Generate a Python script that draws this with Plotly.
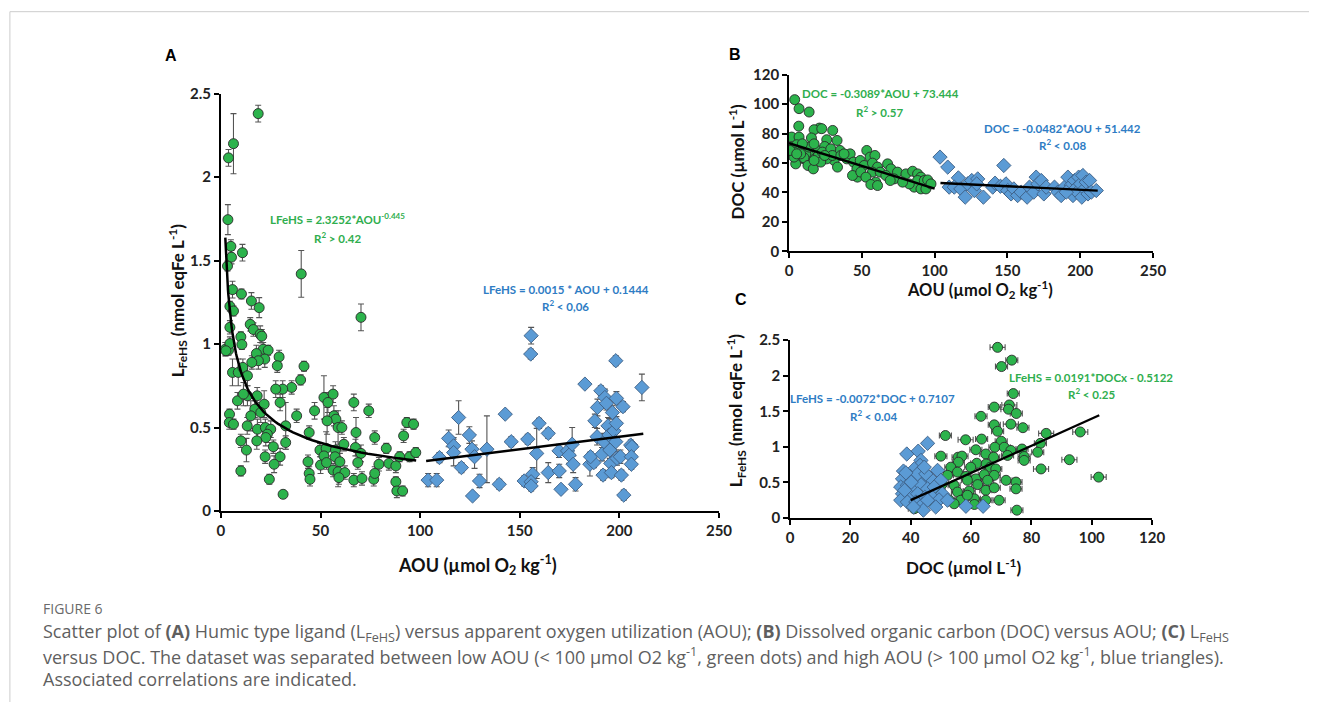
import plotly.graph_objects as go

W, H = 1322, 710

# ---------------- Panel A data: AOU vs LFeHS ----------------
a_low_aou = [18.7, 6.3, 3.8, 3.5, 5.0, 5.3, 10.8, 3.3, 40.3, 5.8, 10.3, 15.3, 19.2, 4.5, 6.3, 70.3,
             14.7, 16.3, 19.7, 20.5, 4.5, 10.0, 10.5, 2.2, 3.8, 4.5, 21.2, 23.7, 17.8, 29.2, 41.7,
             22.0, 18.8, 15.5, 28.3, 5.8, 8.7, 11.0, 13.3, 40.0, 35.5, 31.0, 27.5, 29.7, 51.7, 56.3,
             66.7, 74.2, 47.0, 53.7, 13.3, 18.2, 8.3, 11.3, 21.7, 17.0, 15.0, 20.0, 4.3, 38.0, 4.2,
             6.3, 13.2, 18.3, 22.3, 25.0, 23.3, 22.5, 32.5, 44.3, 56.7, 57.7, 53.3, 58.8, 60.7, 67.8,
             77.2, 93.3, 96.7, 91.7, 10.0, 18.0, 26.3, 32.5, 61.7, 67.5, 83.0, 12.8, 49.7, 52.8, 57.5,
             89.7, 94.7, 97.8, 70.3, 22.2, 29.7, 51.7, 57.3, 59.7, 68.7, 43.7, 26.7, 50.0, 53.0, 79.3,
             84.3, 87.8, 56.3, 58.8, 62.2, 10.0, 44.3, 44.7, 59.2, 66.7, 70.8, 76.7, 77.2, 24.3, 87.8,
             88.3, 91.2, 31.2, 2.5]
a_low_l = [2.38, 2.20, 2.115, 1.745, 1.585, 1.52, 1.547, 1.467, 1.42, 1.326, 1.30, 1.258, 1.218, 1.226,
           1.198, 1.16, 1.118, 1.087, 1.059, 1.047, 1.10, 1.043, 0.997, 0.969, 0.963, 1.003, 0.969,
           0.963, 0.943, 0.923, 0.867, 0.91, 0.90, 0.89, 0.87, 0.83, 0.83, 0.86, 0.81, 0.785, 0.74,
           0.73, 0.73, 0.65, 0.68, 0.70, 0.65, 0.60, 0.60, 0.65, 0.69, 0.69, 0.66, 0.70, 0.64, 0.61,
           0.57, 0.59, 0.58, 0.57, 0.53, 0.52, 0.51, 0.49, 0.50, 0.49, 0.46, 0.44, 0.51, 0.47, 0.57,
           0.55, 0.54, 0.50, 0.50, 0.47, 0.44, 0.53, 0.52, 0.45, 0.42, 0.42, 0.385, 0.41, 0.40, 0.38,
           0.375, 0.365, 0.365, 0.375, 0.365, 0.325, 0.325, 0.35, 0.345, 0.325, 0.325, 0.33, 0.325,
           0.295, 0.29, 0.295, 0.28, 0.275, 0.29, 0.28, 0.285, 0.27, 0.245, 0.235, 0.23, 0.24, 0.225,
           0.19, 0.20, 0.185, 0.195, 0.19, 0.225, 0.19, 0.175, 0.12, 0.12, 0.10, 0.96]
a_low_err = [0.05, 0.18, 0.05, 0.09, 0.04, 0.04, 0.05, 0.03, 0.14, 0.05, 0.03, 0.05, 0.06, 0.03, 0.03,
             0.08, 0.04, 0.04, 0.05, 0.04, 0.04, 0.03, 0.03, 0.04, 0.03, 0.04, 0.04, 0.03, 0.05, 0.04,
             0.03, 0.05, 0.05, 0.04, 0.04, 0.08, 0.08, 0.05, 0.06, 0.03, 0.04, 0.05, 0.05, 0.05, 0.13,
             0.05, 0.05, 0.04, 0.05, 0.06, 0.06, 0.05, 0.05, 0.07, 0.08, 0.05, 0.09, 0.06, 0.03, 0.04,
             0.04, 0.03, 0.05, 0.06, 0.05, 0.05, 0.05, 0.05, 0.14, 0.04, 0.06, 0.05, 0.08, 0.10, 0.04,
             0.09, 0.04, 0.03, 0.03, 0.04, 0.04, 0.05, 0.04, 0.04, 0.04, 0.05, 0.03, 0.07, 0.04, 0.10,
             0.05, 0.03, 0.03, 0.03, 0.05, 0.04, 0.05, 0.04, 0.06, 0.05, 0.04, 0.04, 0.05, 0.05, 0.04,
             0.04, 0.04, 0.04, 0.04, 0.09, 0.04, 0.03, 0.04, 0.04, 0.04, 0.04, 0.04, 0.04, 0.04, 0.03,
             0.03, 0.04, 0.03, 0.02, 0.03]

a_high_aou = [104, 108.3, 109.7, 114.3, 116.8, 116.8, 119.3, 120.7, 124.7, 126, 127.3, 126.3, 129.8,
              133.5, 139.7, 142.7, 145.7, 152.2, 154, 155.7, 155.5, 156.5, 155.7, 155.7, 158.5, 159.7,
              164.3, 164.3, 169.7, 169.8, 170.7, 174, 174.8, 176.8, 176.3, 178, 182.7, 185.2, 187.2,
              185.5, 187.7, 188.8, 189, 190.7, 191.8, 191.3, 192.3, 192.7, 193.5, 194.3, 194.8, 195.2,
              195.7, 196, 196.5, 197.3, 198.5, 198.2, 198.5, 198.2, 198.8, 200.5, 201, 201.8, 202.2,
              205.7, 206.3, 206, 206, 211.3]
a_high_l = [0.185, 0.185, 0.32, 0.435, 0.39, 0.35, 0.56, 0.26, 0.455, 0.37, 0.325, 0.09, 0.18, 0.37,
            0.16, 0.58, 0.415, 0.18, 0.43, 1.05, 0.94, 0.22, 0.175, 0.15, 0.345, 0.525, 0.465, 0.23,
            0.36, 0.24, 0.13, 0.36, 0.335, 0.28, 0.40, 0.16, 0.76, 0.28, 0.29, 0.325, 0.54, 0.445,
            0.62, 0.72, 0.215, 0.34, 0.415, 0.68, 0.645, 0.51, 0.455, 0.365, 0.285, 0.23, 0.59, 0.48,
            0.525, 0.90, 0.675, 0.415, 0.315, 0.325, 0.215, 0.625, 0.095, 0.395, 0.385, 0.325, 0.28,
            0.74]
a_high_err = [0.04, 0.04, 0.03, 0.05, 0.05, 0.08, 0.10, 0.03, 0.05, 0.05, 0.07, 0.02, 0.04, 0.20,
              0.03, 0.02, 0.03, 0.03, 0.03, 0.05, 0.03, 0.04, 0.04, 0.03, 0.15, 0.03, 0.03, 0.06,
              0.04, 0.04, 0.02, 0.03, 0.05, 0.05, 0.10, 0.04, 0.02, 0.07, 0.03, 0.03, 0.04, 0.05,
              0.05, 0.03, 0.03, 0.04, 0.05, 0.05, 0.04, 0.05, 0.10, 0.05, 0.05, 0.03, 0.04, 0.05,
              0.04, 0.03, 0.04, 0.05, 0.04, 0.04, 0.03, 0.03, 0.03, 0.03, 0.03, 0.03, 0.03, 0.08]

a_fit_low = {"coef": 2.3252, "exp": -0.445, "x0": 2.2, "x1": 98.0}
a_fit_high = {"slope": 0.0015, "icpt": 0.1444, "x0": 103.0, "x1": 212.0}

# ---------------- Panel B data: AOU vs DOC ----------------
b_low_aou = [3.9, 6.9, 13.8, 6.7, 20.9, 30.0, 17.2, 22.5, 1.8, 6.9, 15.4, 25.9, 33.0, 1.6, 5.3, 3.4,
             6.2, 4.6, 12.0, 14.4, 17.7, 19.5, 21.8, 24.5, 27.8, 31.0, 33.3, 35.0, 39.7, 42.0, 44.3,
             46.6, 53.4, 48.9, 51.6, 55.7, 59.0, 57.3, 60.8, 57.3, 62.6, 47.0, 43.6, 49.3, 52.8, 59.6,
             56.2, 60.8, 67.7, 70.0, 66.5, 74.5, 72.2, 69.5, 80.3, 84.9, 88.3, 90.6, 88.3, 92.9, 95.2,
             86.0, 90.6, 94.0, 82.6, 78.0, 97.5, 9.2, 11.5, 13.8, 17.2, 20.2, 22.9, 25.9, 28.7, 29.8,
             35.6, 37.8, 9.2, 10.3, 8.0, 13.0, 16.7, 21.8, 24.5, 17.2, 3.4, 0.7, 5.3]
b_low_doc = [103, 96.9, 94.6, 85.0, 83.7, 82.1, 82.6, 83.3, 77.6, 77.6, 77.0, 75.8, 75.3, 70.8, 72.4,
             67.4, 62.2, 59.4, 61.7, 66.2, 62.8, 68.5, 65.1, 71.2, 66.2, 61.7, 57.2, 68.5, 62.8, 66.2,
             60.6, 56.0, 68.5, 61.7, 58.3, 64.0, 65.1, 59.9, 57.2, 53.8, 53.8, 50.4, 51.5, 53.8, 50.4,
             47.0, 45.4, 44.7, 59.4, 56.0, 51.5, 53.8, 49.2, 48.1, 52.6, 54.4, 52.6, 50.4, 48.1, 48.1,
             48.5, 43.6, 42.4, 42.4, 45.8, 47.0, 45.8, 68.5, 66.2, 70.8, 73.0, 65.1, 67.4, 62.8, 69.6,
             65.1, 65.1, 66.2, 73.0, 63.5, 66.2, 58.3, 56.0, 60.6, 65.1, 61.7, 64.0, 68.5, 66.2]
b_high_aou = [103.7, 109, 110, 116.3, 113.5, 118, 121, 122.7, 125.5, 127.3, 129.6, 128.9, 133.5, 139.9,
              141.5, 145.2, 147.5, 149, 150.2, 152.5, 154.4, 157, 159.4, 163.5, 165.1, 168.1, 169.7,
              170.9, 173.2, 175, 176.6, 182.3, 184.6, 186.9, 189.2, 191.5, 192.7, 193.8, 195, 196.1,
              196.6, 197.9, 198.9, 200.2, 201.1, 201.8, 203, 204.1, 205.3, 206.4, 207.6, 211, 190.4]
b_high_doc = [64.0, 57.2, 43.6, 49.9, 43.6, 42.4, 36.8, 45.8, 48.1, 41.3, 49.2, 45.8, 36.8, 43.6,
              46.3, 44.2, 58.3, 45.8, 41.3, 39.0, 42.4, 37.9, 40.2, 36.8, 43.6, 40.2, 50.4, 45.8,
              48.1, 39.0, 43.6, 43.6, 40.2, 37.9, 43.6, 50.4, 41.3, 44.9, 37.9, 48.1, 42.4, 40.2,
              50.4, 45.8, 36.8, 51.5, 42.4, 47.0, 39.0, 48.1, 40.2, 41.3, 40.2]
b_fit_low = {"slope": -0.3089, "icpt": 73.444, "x0": 0.0, "x1": 100.0}
b_fit_high = {"slope": -0.0482, "icpt": 51.442, "x0": 104.0, "x1": 212.0}

# ---------------- Panel C data: DOC vs LFeHS ----------------
c_low_doc = [68.8, 73.5, 70.1, 74.0, 72.7, 72.4, 75.0, 67.7, 63.3, 73.2, 67.7, 77.2, 68.8, 84.9, 96.2,
             51.5, 58.2, 63.5, 70.0, 83.0, 67.9, 71.0, 73.2, 76.9, 61.6, 50.0, 55.7, 57.0, 82.1, 77.6,
             77.6, 92.6, 64.9, 67.5, 72.1, 61.9, 65.0, 55.8, 53.3, 59.9, 66.4, 68.2, 83.2, 52.2, 55.5,
             58.3, 61.6, 64.4, 67.7, 71.6, 74.9, 74.9, 102.3, 47.8, 50.5, 54.4, 59.4, 62.2, 64.9, 67.7,
             55.5, 52.7, 56.6, 61.1, 64.9, 69.3, 50.5, 43.4, 41.2, 47.8, 75.2, 46.7, 49.4, 58.8, 54.4,
             61.1, 45.4, 58.8, 65.5]
c_low_l = [2.40, 2.22, 2.13, 1.75, 1.59, 1.53, 1.47, 1.56, 1.43, 1.32, 1.31, 1.27, 1.22, 1.19, 1.21,
           1.16, 1.10, 1.11, 1.08, 1.05, 0.995, 0.995, 0.95, 0.97, 0.96, 0.87, 0.855, 0.87, 0.925,
           0.865, 0.81, 0.82, 0.90, 0.855, 0.88, 0.77, 0.76, 0.785, 0.715, 0.715, 0.715, 0.69, 0.69,
           0.60, 0.645, 0.585, 0.55, 0.61, 0.60, 0.53, 0.505, 0.41, 0.575, 0.505, 0.48, 0.46, 0.38,
           0.47, 0.39, 0.425, 0.365, 0.255, 0.25, 0.27, 0.25, 0.25, 0.30, 0.33, 0.13, 0.21, 0.11,
           0.38, 0.39, 0.32, 0.20, 0.19, 0.46, 0.53, 0.53]
c_low_xerr = [2.5, 2.0, 2.0, 2.0, 2.5, 2.5, 2.0, 2.0, 2.0, 2.5, 2.0, 2.0, 2.0, 2.5, 2.5,
              2.0, 2.5, 2.0, 2.0, 2.0, 2.0, 2.0, 2.0, 2.0, 2.0, 2.0, 2.0, 2.0, 2.0, 2.0,
              2.0, 2.5, 2.0, 2.0, 2.0, 2.0, 2.0, 2.0, 2.0, 2.0, 2.0, 2.0, 2.5, 2.0, 2.0,
              2.0, 2.0, 2.0, 2.0, 2.0, 2.0, 2.0, 2.5, 2.0, 2.0, 2.0, 2.0, 2.0, 2.0, 2.0,
              2.0, 2.0, 2.0, 2.0, 2.0, 2.0, 2.0, 2.0, 2.0, 2.0, 2.0, 2.0, 2.0, 2.0, 2.0,
              2.0, 2.0, 2.0, 2.0]
c_high_doc = [45.6, 42.5, 38.7, 43.4, 43.1, 37.6, 41.2, 48.9, 37.3, 39.8, 42.3, 44.7, 46.7, 50.0, 36.7,
              38.9, 40.6, 43.4, 45.6, 47.8, 50.5, 37.3, 39.5, 42.3, 44.7, 47.2, 49.4, 52.2, 36.7, 38.9,
              41.7, 43.9, 45.6, 48.3, 44.2, 40.9, 58.3, 64.0, 38.0, 40.2, 42.3, 45.0, 38.4, 44.5]
c_high_l = [1.05, 0.94, 0.90, 0.81, 0.74, 0.66, 0.69, 0.67, 0.55, 0.585, 0.55, 0.53, 0.55, 0.53, 0.435,
            0.46, 0.41, 0.47, 0.41, 0.435, 0.34, 0.34, 0.32, 0.34, 0.29, 0.29, 0.255, 0.25, 0.25,
            0.225, 0.225, 0.19, 0.25, 0.155, 0.11, 0.155, 0.165, 0.165, 0.39, 0.505, 0.62, 0.62,
            0.635, 0.715]
c_fit_low = {"slope": 0.0191, "icpt": -0.5122, "x0": 40.0, "x1": 102.5}

# ---------------- styles ----------------
GREEN = "#2cb34c"
BLUE = "#5b9bd5"
GTXT = "#2fae4e"
BTXT = "#2e7cc4"
FONT = "Lato"

# pixel -> paper helpers (small correction for how the page is photographed)
SX, BX = 0.987, 3.1
SY, BY = 0.976, 9.3


def X(px):
    return ((px - BX) / SX) / W


def Y(py):
    return 1 - ((py - BY) / SY) / H


fig = go.Figure()

err_style = dict(type="data", color="#555555", thickness=1.1, width=3, visible=True)

# Panel A
fig.add_trace(go.Scatter(x=a_low_aou, y=a_low_l, mode="markers", xaxis="x", yaxis="y",
                         error_y=dict(array=a_low_err, **err_style),
                         marker=dict(symbol="circle", size=10, color=GREEN,
                                     line=dict(color="#2a2a2a", width=0.9))))
fig.add_trace(go.Scatter(x=a_high_aou, y=a_high_l, mode="markers", xaxis="x", yaxis="y",
                         error_y=dict(array=a_high_err, **err_style),
                         marker=dict(symbol="diamond", size=11, color=BLUE,
                                     line=dict(color="#3d5f85", width=0.9))))
n = 80
xs = [a_fit_low["x0"] * (a_fit_low["x1"] / a_fit_low["x0"]) ** (i / n) for i in range(n + 1)]
fig.add_trace(go.Scatter(x=xs, y=[a_fit_low["coef"] * v ** a_fit_low["exp"] for v in xs],
                         mode="lines", xaxis="x", yaxis="y", line=dict(color="black", width=2.5)))
xs = [a_fit_high["x0"], a_fit_high["x1"]]
fig.add_trace(go.Scatter(x=xs, y=[a_fit_high["slope"] * v + a_fit_high["icpt"] for v in xs],
                         mode="lines", xaxis="x", yaxis="y", line=dict(color="black", width=2.5)))

# Panel B
fig.add_trace(go.Scatter(x=b_low_aou, y=b_low_doc, mode="markers", xaxis="x2", yaxis="y2",
                         marker=dict(symbol="circle", size=10, color=GREEN,
                                     line=dict(color="#2a2a2a", width=0.9))))
fig.add_trace(go.Scatter(x=b_high_aou, y=b_high_doc, mode="markers", xaxis="x2", yaxis="y2",
                         marker=dict(symbol="diamond", size=11, color=BLUE,
                                     line=dict(color="#3d5f85", width=0.9))))
for f in (b_fit_low, b_fit_high):
    xs = [f["x0"], f["x1"]]
    fig.add_trace(go.Scatter(x=xs, y=[f["slope"] * v + f["icpt"] for v in xs], mode="lines",
                             xaxis="x2", yaxis="y2", line=dict(color="black", width=2.3)))

# Panel C
fig.add_trace(go.Scatter(x=c_low_doc, y=c_low_l, mode="markers", xaxis="x3", yaxis="y3",
                         error_x=dict(array=c_low_xerr, **err_style),
                         marker=dict(symbol="circle", size=10, color=GREEN,
                                     line=dict(color="#2a2a2a", width=0.9))))
fig.add_trace(go.Scatter(x=c_high_doc, y=c_high_l, mode="markers", xaxis="x3", yaxis="y3",
                         marker=dict(symbol="diamond", size=11, color=BLUE,
                                     line=dict(color="#3d5f85", width=0.9))))
xs = [c_fit_low["x0"], c_fit_low["x1"]]
fig.add_trace(go.Scatter(x=xs, y=[c_fit_low["slope"] * v + c_fit_low["icpt"] for v in xs],
                         mode="lines", xaxis="x3", yaxis="y3", line=dict(color="black", width=2.3)))


def ax(dom, rng, dtick, anchor):
    return dict(domain=dom, range=rng, dtick=dtick, tick0=0, anchor=anchor, showline=True,
                linecolor="black", linewidth=1.8, ticks="outside", ticklen=5, tickwidth=1.5,
                tickcolor="black", showgrid=False, zeroline=False, fixedrange=True,
                tickfont=dict(family=FONT, size=15, color="#222", weight="bold"))


fig.update_layout(
    width=W, height=H, margin=dict(l=0, r=0, t=0, b=0), showlegend=False,
    paper_bgcolor="white", plot_bgcolor="rgba(0,0,0,0)",
    xaxis=ax([X(220), X(718)], [0, 250], 50, "y"),
    yaxis=ax([Y(511), Y(93)], [0, 2.5], 0.5, "x"),
    xaxis2=ax([X(788), X(1152)], [0, 250], 50, "y2"),
    yaxis2=ax([Y(251), Y(74)], [0, 120], 20, "x2"),
    xaxis3=ax([X(789), X(1151)], [0, 120], 20, "y3"),
    yaxis3=ax([Y(518), Y(340)], [0, 2.5], 0.5, "x3"),
)

ann = []


def txt(px, py, s, size=12, color="black", family=FONT, angle=0, weight="bold", xanchor="center"):
    ann.append(dict(x=X(px), y=Y(py), xref="paper", yref="paper", text=s, showarrow=False,
                    xanchor=xanchor, yanchor="middle", textangle=angle,
                    font=dict(family=family, size=size, color=color, weight=weight)))


# panel letters
txt(170, 55, "A", 16, "black", "Liberation Sans")
txt(734, 54, "B", 16, "black", "Liberation Sans")
txt(740, 299, "C", 16, "black", "Liberation Sans")

# axis titles
txt(177, 300, "L<sub>FeHS</sub> (nmol eqFe L<sup>-1</sup>)", 17, "#111", angle=-90)
txt(477, 565, "AOU (µmol O<sub>2</sub> kg<sup>-1</sup>)", 18, "#111")
txt(735, 162, "DOC (µmol L<sup>-1</sup>)", 17, "#111", angle=-90)
txt(979, 289, "AOU (µmol O<sub>2</sub> kg<sup>-1</sup>)", 16.5, "#111")
txt(735, 411, "L<sub>FeHS</sub> (nmol eqFe L<sup>-1</sup>)", 17, "#111", angle=-90)
txt(962, 567, "DOC (µmol L<sup>-1</sup>)", 17, "#111")

# equations
txt(337, 218, "LFeHS = 2.3252*AOU<sup>-0.445</sup>", 11.5, GTXT)
txt(337, 237, "R<sup>2</sup> &gt; 0.42", 11.5, GTXT)
txt(565, 289, "LFeHS = 0.0015 * AOU + 0.1444", 11.5, BTXT)
txt(565, 305, "R<sup>2</sup> &lt; 0,06", 11.5, BTXT)
txt(879, 93, "DOC = -0.3089*AOU + 73.444", 11.5, GTXT)
txt(878, 111, "R<sup>2</sup> &gt; 0.57", 11.5, GTXT)
txt(1061, 128, "DOC = -0.0482*AOU + 51.442", 11.5, BTXT)
txt(1061, 144, "R<sup>2</sup> &lt; 0.08", 11.5, BTXT)
txt(871, 398, "LFeHS = -0.0072*DOC + 0.7107", 11.5, BTXT)
txt(872, 415, "R<sup>2</sup> &lt; 0.04", 11.5, BTXT)
txt(1090, 377, "LFeHS = 0.0191*DOCx - 0.5122", 11.5, GTXT)
txt(1090, 393, "R<sup>2</sup> &lt; 0.25", 11.5, GTXT)

# caption
CAP = "#5f5f5f"
txt(40, 609, "FIGURE 6", 14, "#6a6a6a", "Open Sans", weight="normal", xanchor="left")
txt(40, 633, "Scatter plot of <b>(A)</b> Humic type ligand (L<sub>FeHS</sub>) versus apparent oxygen "
             "utilization (AOU); <b>(B)</b> Dissolved organic carbon (DOC) versus AOU; <b>(C)</b> "
             "L<sub>FeHS</sub>", 18, CAP, "Open Sans", weight="normal", xanchor="left")
txt(40, 656, "versus DOC. The dataset was separated between low AOU (&lt; 100 µmol O2 kg<sup>-1</sup>, "
             "green dots) and high AOU (&gt; 100 µmol O2 kg<sup>-1</sup>, blue triangles).",
    18, CAP, "Open Sans", weight="normal", xanchor="left")
txt(40, 679, "Associated correlations are indicated.", 18, CAP, "Open Sans", weight="normal",
    xanchor="left")

fig.update_layout(annotations=ann, shapes=[
    dict(type="line", xref="paper", yref="paper", x0=X(9), x1=1, y0=Y(11), y1=Y(11),
         line=dict(color="#cccccc", width=1)),
    dict(type="line", xref="paper", yref="paper", x0=X(9), x1=X(9), y0=Y(11), y1=0,
         line=dict(color="#cccccc", width=1)),
])

post = ("document.body.style.margin='0';document.body.style.padding='0';"
        "document.body.style.overflow='hidden';")

fig.write_html("out.html", config={"displayModeBar": False}, post_script=post)
